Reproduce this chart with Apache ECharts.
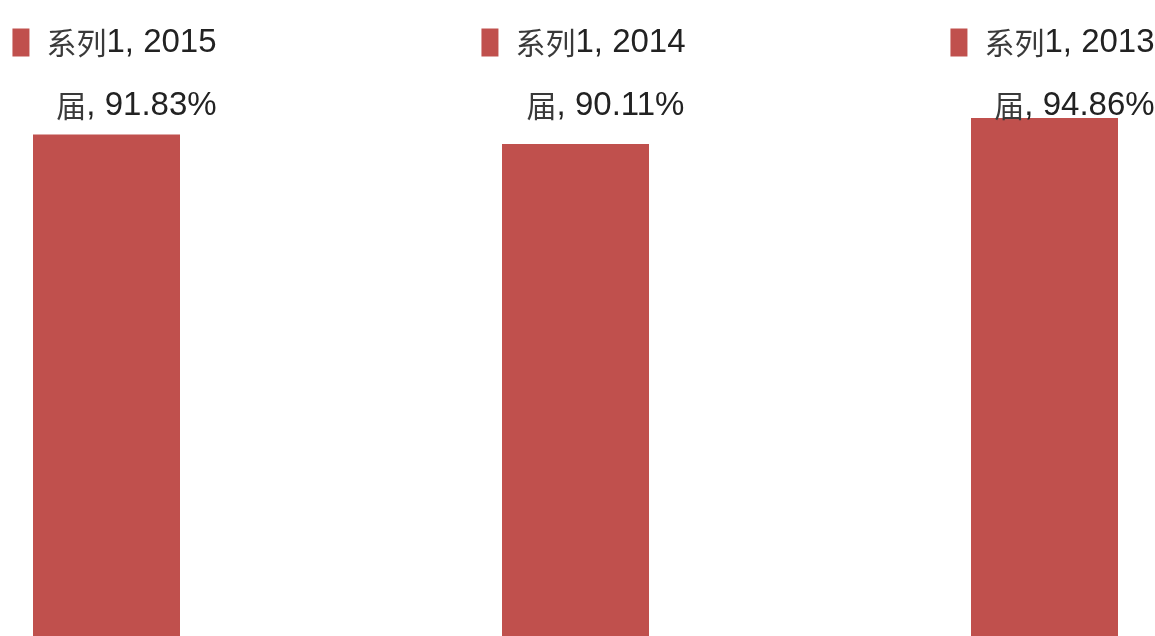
<!DOCTYPE html>
<html>
<head>
<meta charset="utf-8">
<script src="https://cdn.jsdelivr.net/npm/echarts@6/dist/echarts.min.js"></script>
<style>
  html, body { margin: 0; padding: 0; background: #fff; }
  #main { width: 1155px; height: 636px; }
</style>
</head>
<body>
<div id="main"></div>
<script>
// data
const seriesName = '系列1'
const years = ['2015', '2014', '2013']
const yearSuffix = '届'
const rates = [91.83, 90.11, 94.86]

const barColor = '#C0504D'
const chart = echarts.init(document.getElementById('main'))

const cn = '"Noto Sans CJK SC", sans-serif'
const num = '"Liberation Sans", sans-serif'

const option = {
  animation: false,
  grid: { left: -128, right: -124, top: 90, bottom: 0, outerBoundsMode: 'none', containLabel: false },
  xAxis: {
    type: 'category',
    data: years.map(y => y + yearSuffix),
    axisLine: { show: false },
    axisTick: { show: false },
    axisLabel: { show: false }
  },
  yAxis: {
    type: 'value',
    min: 0,
    max: 100,
    show: false,
    splitLine: { show: false }
  },
  series: [{
    name: seriesName,
    type: 'bar',
    barWidth: 147,
    data: rates,
    itemStyle: { color: barColor },
    label: {
      show: true,
      position: 'top',
      formatter: p => {
        const y = years[p.dataIndex]
        return '{sq|}{gap|}{cn|系列}{num|1, ' + y + '}\n{sp|}{cn|' + yearSuffix + '}{num|, ' + p.value.toFixed(2) + '%}'
      },
      rich: {
        sq: { backgroundColor: barColor, width: 17, height: 28, lineHeight: 63 },
        gap: { width: 17, lineHeight: 63 },
        sp: { width: 44, lineHeight: 63 },
        cn: { fontFamily: cn, fontSize: 30, color: '#3a3a3a', lineHeight: 63 },
        num: { fontFamily: num, fontSize: 33, color: '#222', lineHeight: 63 }
      }
    },
    labelLayout: () => ({ y: 11, dx: 8, align: 'center', verticalAlign: 'top' })
  }]
}
chart.setOption(option)
</script>
</body>
</html>
